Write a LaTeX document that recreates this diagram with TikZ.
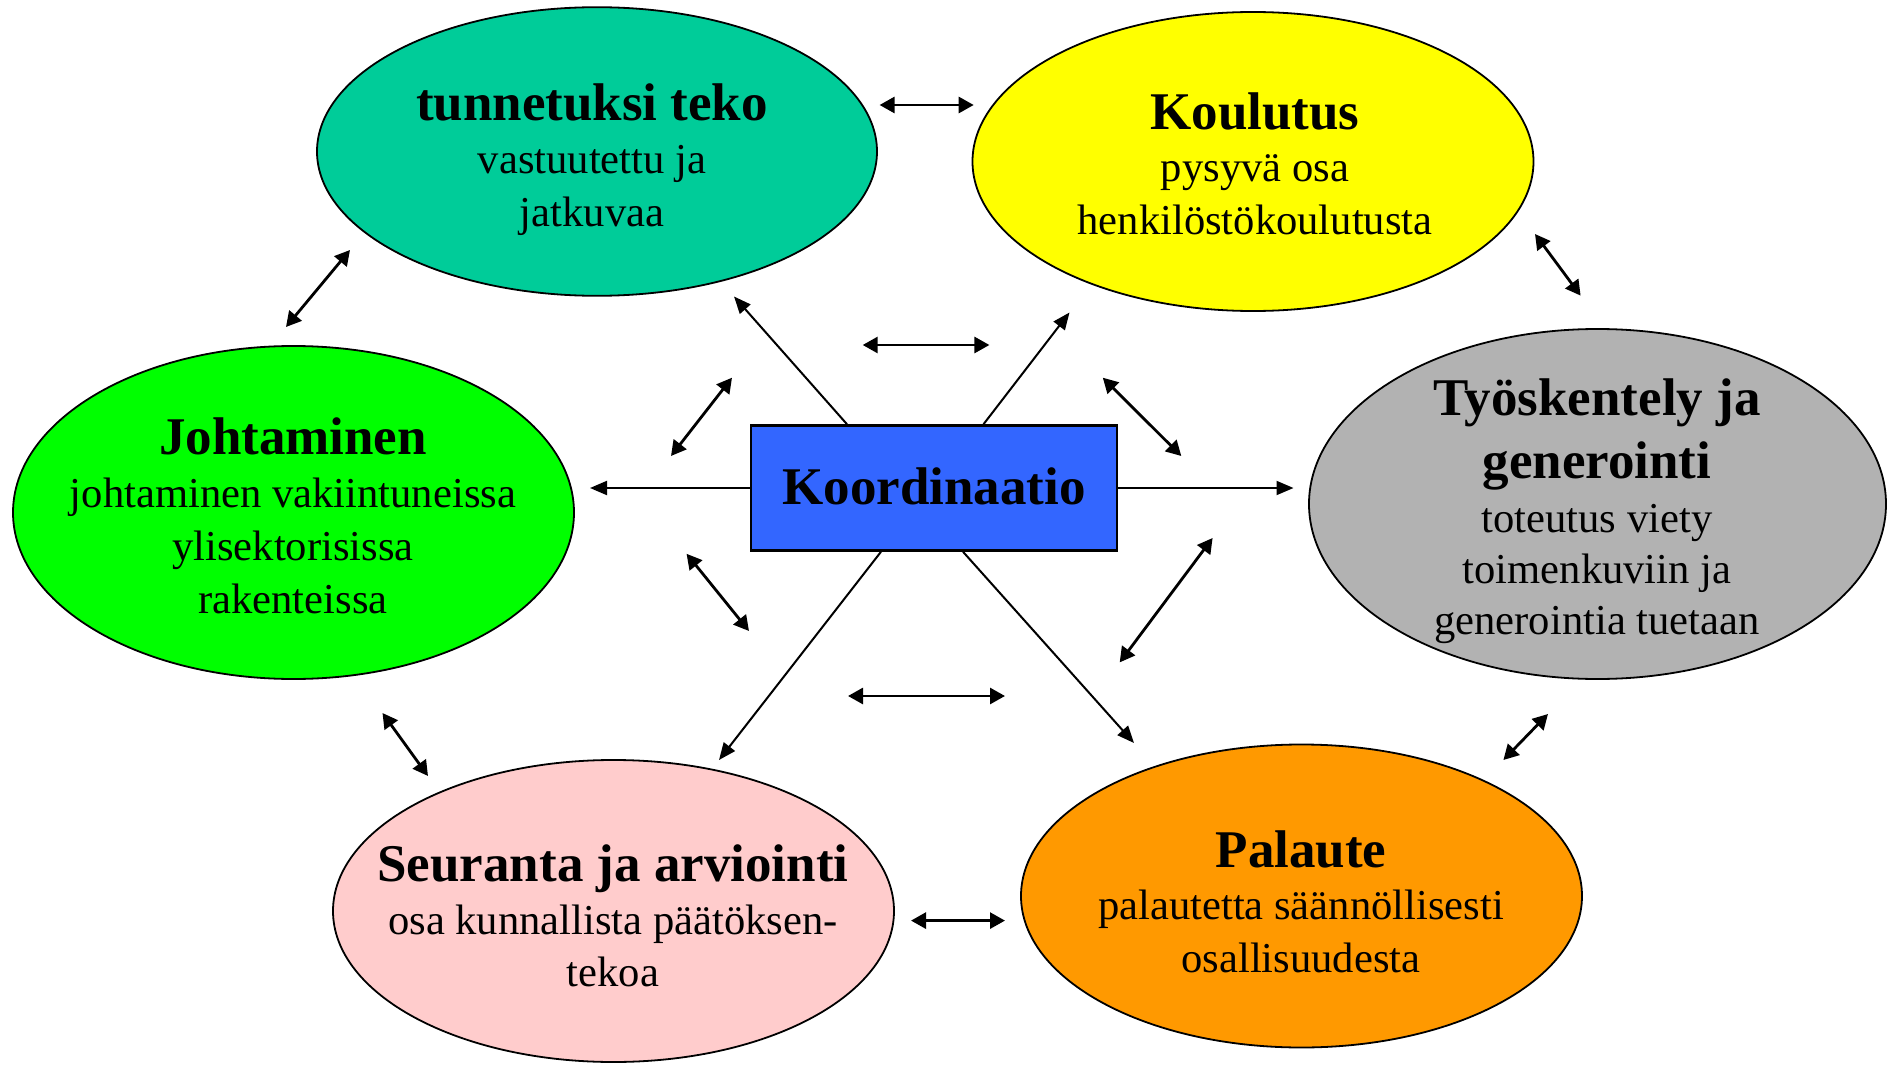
\documentclass[tikz,border=0pt]{standalone}
\usepackage{fontspec}
\setmainfont{Liberation Serif}
\usetikzlibrary{shapes.geometric,arrows.meta,calc}
\definecolor{cteal}{HTML}{00CC99}
\definecolor{cyellow}{HTML}{FFFF00}
\definecolor{cgreen}{HTML}{00FF00}
\definecolor{cgray}{HTML}{B2B2B2}
\definecolor{cpink}{HTML}{FFCCCC}
\definecolor{corange}{HTML}{FF9900}
\definecolor{cblue}{HTML}{3366FF}
\newcommand{\ttl}[1]{{\fontsize{26.5}{26.35}\selectfont\bfseries #1}}
\begin{document}
\begin{tikzpicture}[x=0.5pt,y=-0.5pt,
  ell/.style={ellipse, draw, line width=0.9pt, inner sep=0pt},
  txt/.style={anchor=base, align=center, inner sep=0pt, font=\fontsize{21.3}{26.35}\selectfont},
  carr/.style={line width=1pt, -{Triangle[length=8.5pt,width=7pt]}},
  darr/.style={line width=1.4pt, {Triangle[length=7.5pt,width=8pt]}-{Triangle[length=7.5pt,width=8pt]}}]
\useasboundingbox (0,0) rectangle (1892,1065);
% ellipses
\node[ell, fill=cteal,   minimum width=280pt,   minimum height=144.3pt] (tun) at (597,151.5) {};
\node[ell, fill=cyellow, minimum width=280.5pt, minimum height=149.5pt] (kou) at (1253,161.5) {};
\node[ell, fill=cgreen,  minimum width=280.5pt, minimum height=166.5pt] (joh) at (293.5,512.5) {};
\node[ell, fill=cgray,   minimum width=288.5pt, minimum height=175pt]   (tyo) at (1597.5,504) {};
\node[ell, fill=cpink,   minimum width=280.5pt, minimum height=151pt]   (seu) at (613.5,911) {};
\node[ell, fill=corange, minimum width=280.5pt, minimum height=151.5pt] (pal) at (1301.5,896) {};
% texts (anchor = baseline of the last line)
\node[txt] (tunT) at (592,226.1) {\ttl{tunnetuksi teko}\\vastuutettu ja\\jatkuvaa};
\node[txt] (kouT) at (1255,234.4) {\ttl{Koulutus}\\pysyvä osa\\henkilöstökoulutusta};
\node[txt] (johT) at (293,613) {\ttl{Johtaminen}\\johtaminen vakiintuneissa\\ylisektorisissa\\rakenteissa};
\node[txt, font=\fontsize{21.3}{25.5}\selectfont] (tyoT) at (1597,634)
  {{\fontsize{26.5}{31.5}\selectfont\bfseries Työskentely ja}\\[6pt]{\fontsize{26.5}{25.5}\selectfont\bfseries generointi}\\[1.5pt]toteutus viety\\toimenkuviin ja\\generointia tuetaan};
\node[txt] (seuT) at (613,986.7) {\ttl{Seuranta ja arviointi}\\osa kunnallista päätöksen-\\tekoa};
\node[txt] (palT) at (1301,972.4) {\ttl{Palaute}\\palautetta säännöllisesti\\osallisuudesta};
% centre box
\node[draw, fill=cblue, line width=1.35pt, minimum width=183pt, minimum height=62.4pt, inner sep=0pt,
  font=\fontsize{26.5}{30}\selectfont\bfseries] (box) at (934,488) {\raisebox{2pt}{Koordinaatio}};
% arrow tips from the box
\coordinate (c1) at (734,296.5);
\coordinate (c2) at (1069.5,312.5);
\coordinate (c3) at (590,488);
\coordinate (c4) at (1293.5,488);
\coordinate (c5) at (719,760);
\coordinate (c6) at (1134,743);
\draw[carr] ($(box.north)+(-87,0)$) -- (c1);
\draw[carr] ($(box.north)+(49.5,0)$) -- (c2);
\draw[carr] (box.west) -- (c3);
\draw[carr] (box.east) -- (c4);
\draw[carr] ($(box.south)+(-53,0)$) -- (c5);
\draw[carr] ($(box.south)+(29,0)$) -- (c6);
% double arrows
\coordinate (d1a) at (879.6,105);   \coordinate (d1b) at (973.7,105);
\coordinate (d2a) at (286,327);     \coordinate (d2b) at (350,250);
\coordinate (d3a) at (1535,234);    \coordinate (d3b) at (1580.6,295.6);
\coordinate (d4a) at (862.7,345);   \coordinate (d4b) at (989.4,345);
\coordinate (d5a) at (671,456);     \coordinate (d5b) at (732,377.7);
\coordinate (d6a) at (1102.8,377.7);\coordinate (d6b) at (1181.3,456);
\coordinate (d7a) at (686.6,553.8); \coordinate (d7b) at (749,631);
\coordinate (d8a) at (1212.6,538);  \coordinate (d8b) at (1119.7,662.4);
\coordinate (d9a) at (848,696);     \coordinate (d9b) at (1005,696);
\coordinate (d10a) at (382.5,713);  \coordinate (d10b) at (428,776);
\coordinate (d11a) at (1548,714);   \coordinate (d11b) at (1503.4,760);
\coordinate (d12a) at (911,920.6);  \coordinate (d12b) at (1005,920.6);
\foreach \i in {1,...,12} {\draw[darr] (d\i a) -- (d\i b);}
\end{tikzpicture}
\end{document}
